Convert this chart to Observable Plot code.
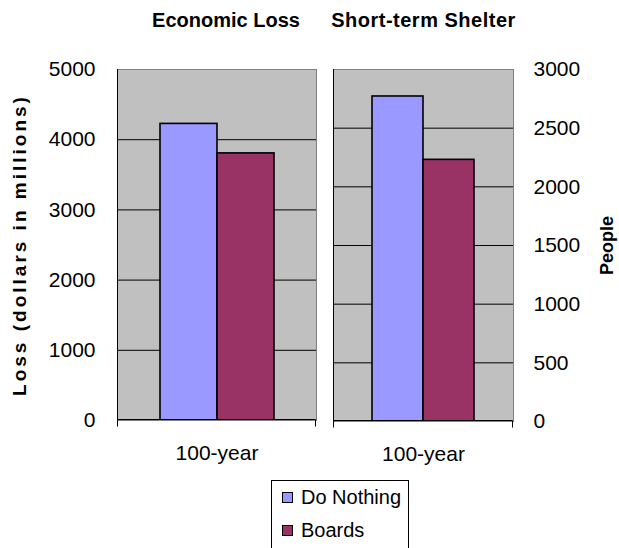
<!DOCTYPE html>
<html>
<head>
<meta charset="utf-8">
<script src="https://cdn.jsdelivr.net/npm/d3@7"></script>
<script src="https://cdn.jsdelivr.net/npm/@observablehq/plot@0.6"></script>
<style>
  body { margin: 0; background: #fff; }
  #chart { position: relative; width: 619px; height: 548px; overflow: hidden;
           font-family: "Liberation Sans", Arial, sans-serif; color: #000; }
  #chart svg { position: absolute; top: 0; overflow: visible; }
  #legend { position: absolute; left: 271px; top: 480px; width: 136px; height: 80px;
            border: 1px solid #000; background: #fff; font-size: 20px; }
  #legend .item { display: flex; align-items: center; height: 33px; padding-left: 10px; }
  #legend .sw { width: 9px; height: 9px; border: 1px solid #000; margin-right: 8px; }
</style>
</head>
<body>
<div id="chart"></div>
<script>
// Scenario data
const category = "100-year";
const series = ["Do Nothing", "Boards"];
const colors = ["#9999ff", "#993366"];
const lossValues = [4225, 3805];      // dollars in millions
const shelterValues = [2770, 2230];   // people
const lossTicks = [0, 1000, 2000, 3000, 4000, 5000];
const shelterTicks = [0, 500, 1000, 1500, 2000, 2500, 3000];

const font = "'Liberation Sans', Arial, sans-serif";

// Black left axis line plus short ticks below the category edges
function axisEdges(index, scales, values, dims) {
  const {width, height, marginLeft, marginRight, marginBottom, marginTop} = dims;
  const x0 = Math.round(marginLeft) + 0.5, x1 = Math.round(width - marginRight) - 0.5;
  const y0 = marginTop, y1 = Math.round(height - marginBottom) - 0.5;
  const g = d3.create("svg:g").attr("fill", "none").attr("stroke", "#000");
  g.append("path").attr("d", `M${x0},${y0}V${y1 + 7}M${x0},${y1}H${x1}M${x1},${y1}V${y1 + 7}`);
  return g.node();
}

function panel({title, titleDx, values, ticks, width, marginLeft, marginRight, marginBottom, axisAnchor, tickPadding, label, labelDx, labelSize}) {
  const rows = series.map((s, i) => ({series: s, value: values[i]}));
  const yMax = ticks[ticks.length - 1];
  return Plot.plot({
    width,
    height: 470,
    marginTop: 69,
    marginBottom,
    marginLeft,
    marginRight,
    style: {fontFamily: font, fontSize: "21px", color: "#000", background: "transparent"},
    x: {domain: series, paddingInner: 0, paddingOuter: 0.74, axis: null},
    y: {domain: [0, yMax], axis: null},
    color: {domain: series, range: colors},
    marks: [
      Plot.frame({fill: "#c0c0c0", stroke: "none"}),
      Plot.gridY(ticks, {stroke: "#000", strokeOpacity: 1, strokeWidth: 1}),
      Plot.barY(rows, {x: "series", y: "value", fill: "series", stroke: "#000", strokeWidth: 1.6}),
      Plot.frame({stroke: "#808080", fill: "none"}),
      axisEdges,
      Plot.axisY(ticks, {anchor: axisAnchor, tickSize: 0, tickPadding, label: null, fontSize: 21,
                         tickFormat: d => String(d)}),
      Plot.text([category], {text: d => d, frameAnchor: "bottom", lineAnchor: "middle", dy: 33, fontSize: 21}),
      Plot.text([title], {text: d => d, frameAnchor: "top", lineAnchor: "middle", dx: titleDx, dy: -49,
                          fontSize: 20, fontWeight: "bold"}),
      Plot.text([label], {text: d => d, frameAnchor: axisAnchor, textAnchor: "middle", lineAnchor: "middle",
                          dx: labelDx, rotate: -90, fontSize: labelSize, fontWeight: "bold"})
    ]
  });
}

const chart = document.getElementById("chart");

const left = panel({
  title: "Economic Loss", titleDx: 9, values: lossValues, ticks: lossTicks,
  width: 320, marginLeft: 117, marginRight: 4, marginBottom: 50,
  axisAnchor: "left", tickPadding: 22,
  label: "Loss (dollars in millions)", labelDx: -98, labelSize: 19
});
left.style.left = "0px";
chart.appendChild(left);

const right = panel({
  title: "Short-term Shelter", titleDx: 0, values: shelterValues, ticks: shelterTicks,
  width: 299, marginLeft: 13, marginRight: 106, marginBottom: 49,
  axisAnchor: "right", tickPadding: 20,
  label: "People", labelDx: 94, labelSize: 18
});
right.style.left = "320px";
chart.appendChild(right);

// Tracking on the bold headings
d3.select(chart).selectAll("text")
  .filter(function() { return this.textContent === "Short-term Shelter"; })
  .style("letter-spacing", "0.5px");
d3.select(chart).selectAll("text")
  .filter(function() { return this.textContent === "Loss (dollars in millions)"; })
  .style("letter-spacing", "3px");

// Legend
const legend = d3.select(chart).append("div").attr("id", "legend");
series.forEach((s, i) => {
  const item = legend.append("div").attr("class", "item");
  item.append("div").attr("class", "sw").style("background", colors[i]);
  item.append("span").text(s);
});
</script>
</body>
</html>
